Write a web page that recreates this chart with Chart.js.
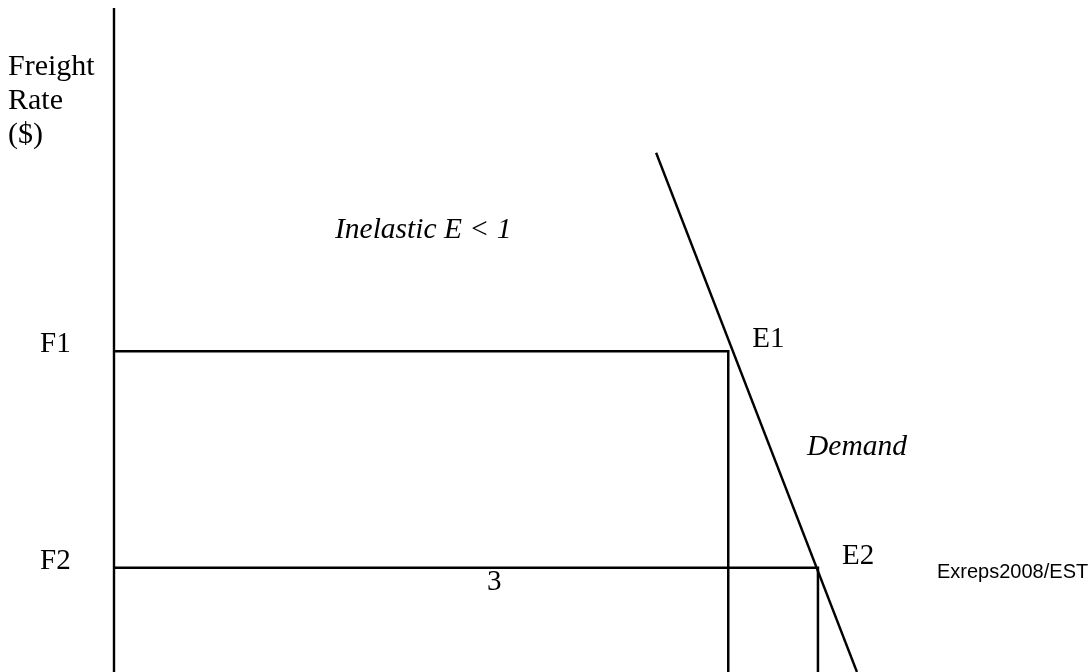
<!DOCTYPE html>
<html>
<head>
<meta charset="utf-8">
<script src="https://cdn.jsdelivr.net/npm/chart.js@4"></script>
<style>
  html, body { margin: 0; padding: 0; background: #fff; }
  #wrap { width: 1089px; height: 672px; position: relative; }
</style>
</head>
<body>
<div id="wrap"><canvas id="chart"></canvas></div>
<script>
// data (quantity 0-100, freight rate 0-100)
const rateLevels   = [48.3, 15.7];   // F1, F2
const qtyLevels    = [63.0, 72.2];   // quantity at E1, E2
const demandQty    = [55.6, 76.2];
const demandRate   = [78.2, 0];
const axisRate     = [0, 100];
const rateLabels   = ['F1', 'F2'];
const pointLabels  = ['E1', 'E2'];

const ink = '#000';

const lineSet = (pts, w) => ({
  data: pts, showLine: true, borderColor: ink, borderWidth: w || 2.5,
  pointRadius: 0, fill: false, clip: false, tension: 0
});

const datasets = [
  lineSet(axisRate.map(r => ({ x: 0, y: r })), 2.4),
  ...rateLevels.map((r, i) => lineSet([
    { x: 0, y: r }, { x: qtyLevels[i], y: r }, { x: qtyLevels[i], y: 0 }
  ])),
  lineSet(demandQty.map((q, i) => ({ x: q, y: demandRate[i] })), 2.4)
];

// text labels, drawn after the datasets
const textPlugin = {
  id: 'texts',
  afterDatasetsDraw(chart) {
    const { ctx, scales: { x, y } } = chart;
    const serif = '"Liberation Serif", "Times New Roman", serif';
    ctx.save();
    ctx.fillStyle = ink;
    ctx.textBaseline = 'alphabetic';
    ctx.textAlign = 'left';

    ctx.font = `30px ${serif}`;
    ['Freight', 'Rate', '($)'].forEach((t, i) => ctx.fillText(t, 8, 75 + i * 34));

    ctx.font = `29px ${serif}`;
    rateLabels.forEach((t, i) => ctx.fillText(t, 40, y.getPixelForValue(rateLevels[i]) + 1));
    pointLabels.forEach((t, i) =>
      ctx.fillText(t, x.getPixelForValue(qtyLevels[i]) + 24, y.getPixelForValue(rateLevels[i]) - 4));
    ctx.fillText('3', 487, y.getPixelForValue(rateLevels[1]) + 22);

    ctx.font = `italic 29.5px ${serif}`;
    ctx.fillText('Inelastic E < 1', 335, 238);
    ctx.fillText('Demand', 807, 455);

    ctx.font = '20px "Liberation Sans", Arial, sans-serif';
    ctx.fillText('Exreps2008/EST', 937, 578);
    ctx.restore();
  }
};

new Chart(document.getElementById('chart'), {
  type: 'scatter',
  data: { datasets },
  options: {
    responsive: true, maintainAspectRatio: false, animation: false,
    layout: { padding: { left: 114, top: 8, right: 0, bottom: 0 } },
    plugins: { legend: { display: false }, tooltip: { enabled: false } },
    scales: {
      x: { type: 'linear', display: false, min: 0, max: 100 },
      y: { type: 'linear', display: false, min: 0, max: 100 }
    }
  },
  plugins: [textPlugin]
});
</script>
</body>
</html>
